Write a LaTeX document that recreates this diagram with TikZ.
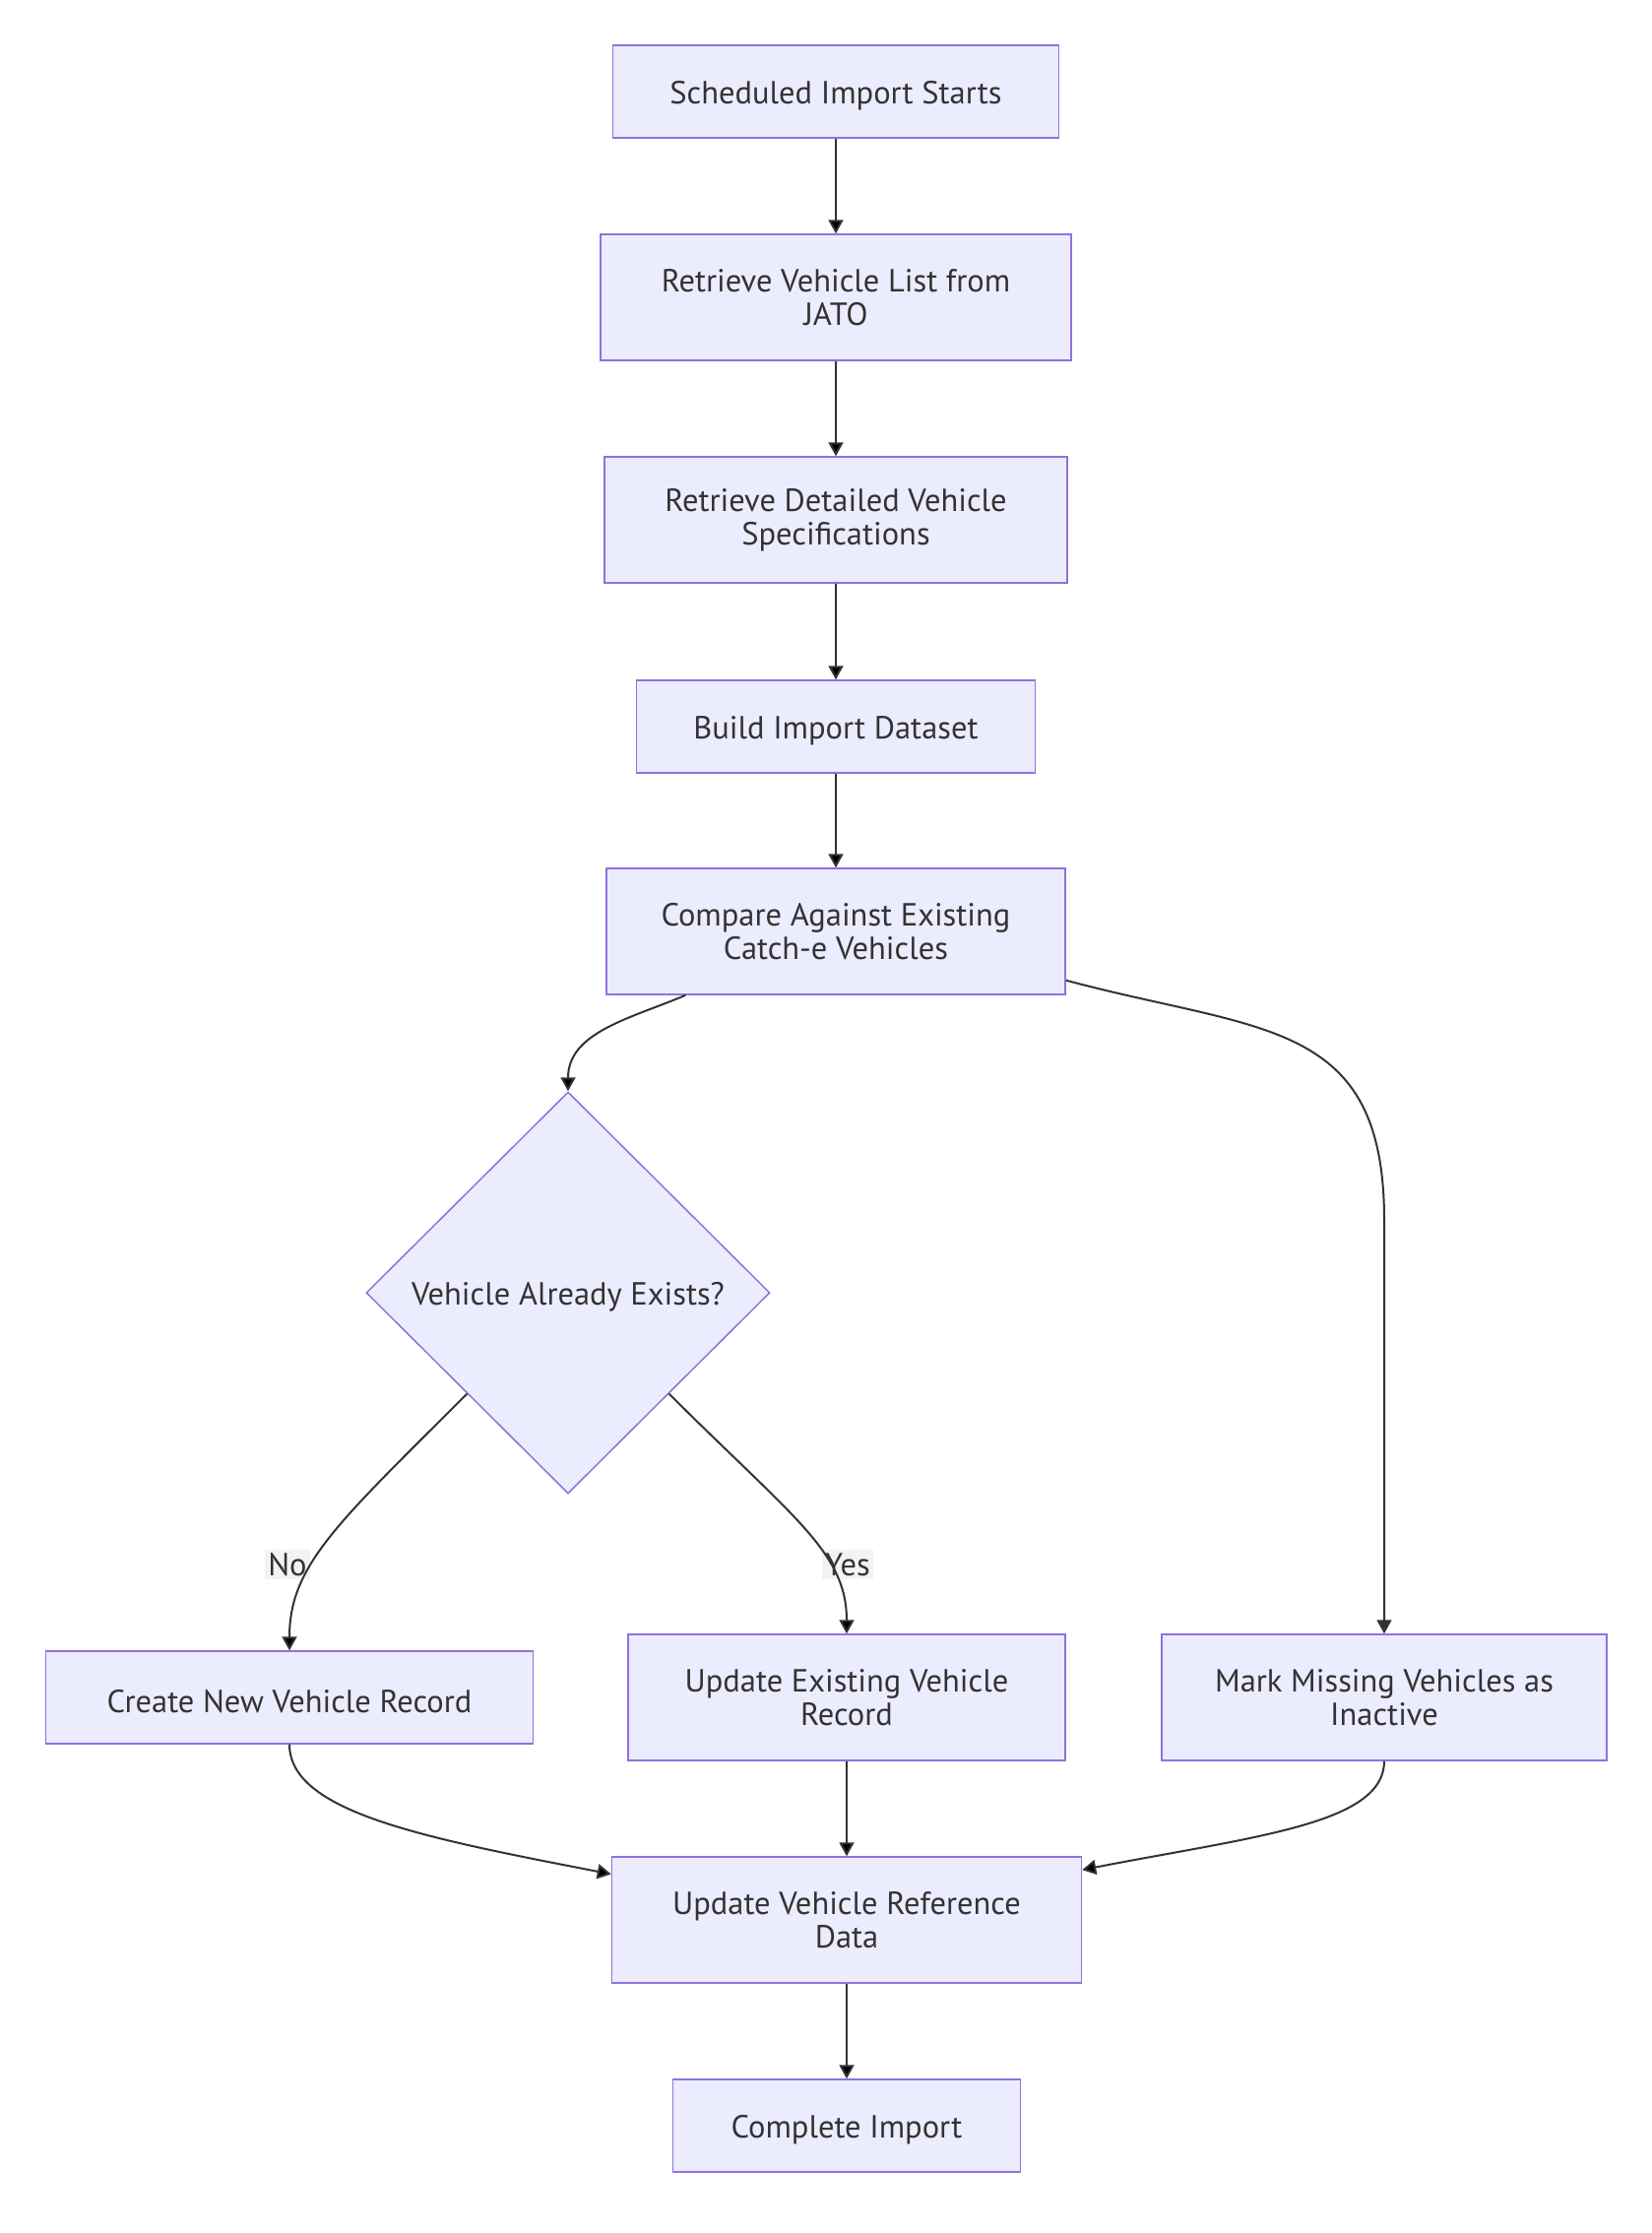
\documentclass[tikz,border=0pt]{standalone}
\usepackage{fontspec}
\setmainfont{PT Sans}
\usetikzlibrary{arrows.meta,shapes.geometric,calc,positioning}
\definecolor{boxfill}{HTML}{ECECFF}
\definecolor{boxline}{HTML}{9370DB}
\definecolor{inkgray}{HTML}{333333}
\definecolor{lblfill}{HTML}{F3F3F3}
\tikzset{>={Triangle[length=14pt,width=15pt]}}

\begin{document}
\begin{tikzpicture}[x=1pt,y=1pt]

        % Setup the style for the steps
        \tikzset{node style/.style={draw=boxline,
                                    fill=boxfill,
                                    line width=1.5pt,
                                    text=inkgray,
                                    align=center,
                                    inner sep=0pt,
                                    minimum height=128pt,
                                    font=\fontsize{32.5}{34}\selectfont},
                 short style/.style={node style,
                                    text height=31pt,
                                    minimum height=94pt},
                 check style/.style={short style, diamond,
                                    minimum width=410pt,
                                    minimum height=408pt},
                 label style/.style={fill=lblfill,
                                    text=inkgray,
                                    inner sep=3pt,
                                    font=\fontsize{32.5}{34}\selectfont}}
        \useasboundingbox (0,0) rectangle (1678,-2268);

        % Draw the steps
        \node[short style, minimum width=453pt] at (849, -93)   (start) {Scheduled Import Starts};
        \node[node style, minimum width=478pt]  at (849, -302)  (list)  {Retrieve Vehicle List from\\JATO};
        \node[node style, minimum width=470pt]  at (849, -528)  (spec)  {Retrieve Detailed Vehicle\\Specifications};
        \node[short style, minimum width=405pt] at (849, -738)  (build) {Build Import Dataset};
        \node[node style, minimum width=466pt]  at (849, -946)  (cmp)   {Compare Against Existing\\Catch-e Vehicles};
        \node[check style]                      at (577, -1313) (check) {Vehicle Already Exists?};
        \node[short style, minimum width=495pt] at (294, -1724) (new)   {Create New Vehicle Record};
        \node[node style, minimum width=444pt]  at (860, -1724) (upd)   {Update Existing Vehicle\\Record};
        \node[node style, minimum width=452pt]  at (1406, -1724) (mark) {Mark Missing Vehicles as\\Inactive};
        \node[node style, minimum width=477pt]  at (860, -1950) (ref)   {Update Vehicle Reference\\Data};
        \node[short style, minimum width=353pt] at (860, -2159) (done)  {Complete Import};

        \node[label style] at (292, -1589) (no)  {No};
        \node[label style] at (861, -1589) (yes) {Yes};
        \coordinate (turn) at ($(mark.north)+(0,420)$);

        % Connect the steps with arrows
        \path[line width=2pt,
              draw=inkgray,
              every edge/.append style={->}]
            (start) edge (list)
            (list) edge (spec)
            (spec) edge (build)
            (build) edge (cmp)
            (cmp.203) edge[out=203, in=90] (check.north)
            (check.225) edge[out=225, in=90, out looseness=1.5, in looseness=0.7] (new.north)
            (check.-45) edge[out=-45, in=90, out looseness=1.5, in looseness=0.7] (upd.north)
            (new.south) edge[out=-90, in=169, out looseness=0.5, in looseness=1.4] (ref.169)
            (upd) edge (ref)
            (mark.south) edge[out=-90, in=11, out looseness=0.5, in looseness=1.4] (ref.12)
            (ref) edge (done);
        \draw[line width=2pt, draw=inkgray, ->]
            (cmp.-12) to[out=-15, in=90, looseness=1.3] (turn) -- (mark.north);
    \end{tikzpicture}
\end{document}
